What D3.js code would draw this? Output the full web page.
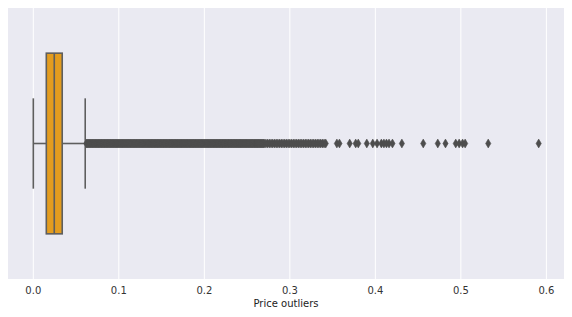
<!DOCTYPE html>
<html lang="en">
<head>
<meta charset="UTF-8">
<title>Price outliers</title>
<script src="https://cdn.jsdelivr.net/npm/d3@7"></script>
<style>
  body { margin: 0; background: #fff; }
  text { font-family: "DejaVu Sans", sans-serif; }
</style>
</head>
<body>
<script>
  // box summary
  var boxStats = { low: 0.0, q1: 0.0152, median: 0.0245, q3: 0.0338, high: 0.0607 }
  var xTicks = [0.0, 0.1, 0.2, 0.3, 0.4, 0.5, 0.6]
  var axisLabel = 'Price outliers'
  // flier values: the dense band (so many points it looks solid)
  var outliersDense = [
    0.062, 0.063, 0.064, 0.065, 0.066, 0.067, 0.068, 0.069, 0.070, 0.071,
    0.072, 0.073, 0.074, 0.075, 0.076, 0.077, 0.078, 0.079, 0.080, 0.081,
    0.082, 0.083, 0.084, 0.085, 0.086, 0.087, 0.088, 0.089, 0.090, 0.091,
    0.092, 0.093, 0.094, 0.095, 0.096, 0.097, 0.098, 0.099, 0.100, 0.101,
    0.102, 0.103, 0.104, 0.105, 0.106, 0.107, 0.108, 0.109, 0.110, 0.111,
    0.112, 0.113, 0.114, 0.115, 0.116, 0.117, 0.118, 0.119, 0.120, 0.121,
    0.122, 0.123, 0.124, 0.125, 0.126, 0.127, 0.128, 0.129, 0.130, 0.131,
    0.132, 0.133, 0.134, 0.135, 0.136, 0.137, 0.138, 0.139, 0.140, 0.141,
    0.142, 0.143, 0.144, 0.145, 0.146, 0.147, 0.148, 0.149, 0.150, 0.151,
    0.152, 0.153, 0.154, 0.155, 0.156, 0.157, 0.158, 0.159, 0.160, 0.161,
    0.162, 0.163, 0.164, 0.165, 0.166, 0.167, 0.168, 0.169, 0.170, 0.171,
    0.172, 0.173, 0.174, 0.175, 0.176, 0.177, 0.178, 0.179, 0.180, 0.181,
    0.182, 0.183, 0.184, 0.185, 0.186, 0.187, 0.188, 0.189, 0.190, 0.191,
    0.192, 0.193, 0.194, 0.195, 0.196, 0.197, 0.198, 0.199, 0.200, 0.201,
    0.202, 0.203, 0.204, 0.205, 0.206, 0.207, 0.208, 0.209, 0.210, 0.211,
    0.212, 0.213, 0.214, 0.215, 0.216, 0.217, 0.218, 0.219, 0.220, 0.221,
    0.222, 0.223, 0.224, 0.225, 0.226, 0.227, 0.228, 0.229, 0.230, 0.231,
    0.232, 0.233, 0.234, 0.235, 0.236, 0.237, 0.238, 0.239, 0.240, 0.241,
    0.242, 0.243, 0.244, 0.245, 0.246, 0.247, 0.248, 0.249, 0.250, 0.251,
    0.252, 0.253, 0.254, 0.255, 0.256, 0.257, 0.258, 0.259, 0.260, 0.261,
    0.262, 0.263, 0.264, 0.265, 0.266, 0.267, 0.268, 0.269, 0.270
  ]
  // flier values: the thinning tail
  var outliersTail = [
    0.272, 0.274, 0.276, 0.278, 0.280, 0.282, 0.284, 0.286, 0.288, 0.290,
    0.292, 0.294, 0.296, 0.298, 0.300, 0.302, 0.304, 0.306, 0.308, 0.310,
    0.312, 0.314, 0.316, 0.318, 0.320, 0.322, 0.324, 0.326, 0.328, 0.330,
    0.332, 0.334, 0.336, 0.338, 0.340, 0.342, 0.355, 0.358, 0.370, 0.377,
    0.380, 0.390, 0.397, 0.402, 0.407, 0.410, 0.413, 0.416, 0.420, 0.431,
    0.456, 0.473, 0.482, 0.494, 0.498, 0.502, 0.505, 0.532, 0.591
  ]
  var outliers = outliersDense.concat(outliersTail)

  var width = 572
      height = 317
      margin = { top: 8, right: 8, bottom: 38, left: 8 }
      innerW = width - margin.left - margin.right
      innerH = height - margin.top - margin.bottom
      lineColor = '#5e5e5e'

  var svg = d3.select('body')
      .append('svg')
      .attr('width', width)
      .attr('height', height)

  var g = svg.append('g')
      .attr('transform', 'translate(' + margin.left + ',' + margin.top + ')')

  var xScale = d3.scaleLinear()
      .domain([-0.0296, 0.6206])
      .range([0, innerW])

  var yScale = d3.scaleBand()
      .domain([axisLabel])
      .range([0, innerH])
      .paddingInner(0)
      .paddingOuter(0.1)

  g.append('rect')
      .attr('width', innerW)
      .attr('height', innerH)
      .attr('fill', '#eaeaf2')

  // grid
  g.selectAll('.grid')
      .data(xTicks)
      .enter()
      .append('line')
      .attr('x1', d => xScale(d))
      .attr('x2', d => xScale(d))
      .attr('y1', 0)
      .attr('y2', innerH)
      .attr('stroke', '#fff')
      .attr('stroke-width', 1)

  var cy = yScale(axisLabel) + yScale.bandwidth() / 2
      boxH = yScale.bandwidth() * 0.8
      capH = boxH / 2

  // whiskers
  g.append('line')
      .attr('x1', xScale(boxStats.low)).attr('x2', xScale(boxStats.q1))
      .attr('y1', cy).attr('y2', cy)
      .attr('stroke', lineColor).attr('stroke-width', 1.6)
  g.append('line')
      .attr('x1', xScale(boxStats.q3)).attr('x2', xScale(boxStats.high))
      .attr('y1', cy).attr('y2', cy)
      .attr('stroke', lineColor).attr('stroke-width', 1.6)
  g.selectAll('.cap')
      .data([boxStats.low, boxStats.high])
      .enter()
      .append('line')
      .attr('x1', d => xScale(d)).attr('x2', d => xScale(d))
      .attr('y1', cy - capH / 2).attr('y2', cy + capH / 2)
      .attr('stroke', lineColor).attr('stroke-width', 1.6)

  // box
  g.append('rect')
      .attr('x', xScale(boxStats.q1))
      .attr('y', cy - boxH / 2)
      .attr('width', xScale(boxStats.q3) - xScale(boxStats.q1))
      .attr('height', boxH)
      .attr('fill', '#e39c1f')
      .attr('stroke', lineColor)
      .attr('stroke-width', 1.6)
  g.append('line')
      .attr('x1', xScale(boxStats.median)).attr('x2', xScale(boxStats.median))
      .attr('y1', cy - boxH / 2).attr('y2', cy + boxH / 2)
      .attr('stroke', lineColor).attr('stroke-width', 1.6)

  // fliers as thin diamonds
  var dw = 2.6, dh = 4.4
  g.selectAll('.flier')
      .data(outliers)
      .enter()
      .append('path')
      .attr('d', 'M0,' + (-dh) + 'L' + dw + ',0L0,' + dh + 'L' + (-dw) + ',0Z')
      .attr('transform', d => 'translate(' + xScale(d) + ',' + cy + ')')
      .attr('fill', '#4d4d4d')
      .attr('stroke', '#4d4d4d')
      .attr('stroke-width', 0.6)

  // x axis labels
  g.selectAll('.tick-label')
      .data(xTicks)
      .enter()
      .append('text')
      .attr('x', d => xScale(d))
      .attr('y', innerH + 15)
      .attr('text-anchor', 'middle')
      .attr('font-size', 10)
      .attr('fill', '#333')
      .text(d => d3.format('.1f')(d))

  svg.append('text')
      .attr('x', margin.left + innerW / 2)
      .attr('y', margin.top + innerH + 28)
      .attr('text-anchor', 'middle')
      .attr('font-size', 10)
      .attr('fill', '#222')
      .text(axisLabel)
</script>
</body>
</html>
